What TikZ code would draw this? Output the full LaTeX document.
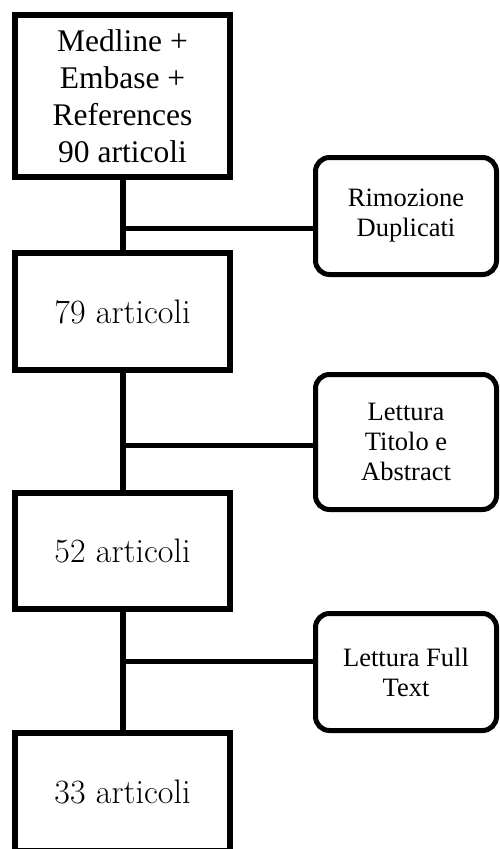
\documentclass[tikz,border=0pt]{standalone}
\usepackage{fontspec}
\newfontfamily\timesfont{Liberation Serif}
\begin{document}
\begin{tikzpicture}[x=1pt,y=-1pt,
	box/.style={draw,line width=6pt,minimum width=215pt,align=center,inner sep=0pt,font=\fontsize{34}{40}\selectfont},
	fase/.style={draw,line width=5pt,rounded corners=14pt,minimum width=181pt,minimum height=117pt,align=center,inner sep=0pt,font=\timesfont\fontsize{26.5}{30}\selectfont},
	link/.style={line width=6pt},
	ramo/.style={line width=5pt}]

	\useasboundingbox (0,0) rectangle (499,849);

	% Articoli
	\node[box,minimum height=162pt,font=\timesfont\fontsize{31.5}{37}\selectfont] (fonti) at (122.5,96) {Medline +\\Embase +\\References\\90 articoli};
	\node[box,minimum height=117pt] (art79) at (122.5,311.5) {79 articoli};
	\node[box,minimum height=116pt] (art52) at (122.5,551) {52 articoli};
	\node[box,minimum height=118pt] (art33) at (122.5,792) {33 articoli};

	% Fasi
	\node[fase] (duplicati) at (406,216) {Rimozione\\Duplicati};
	\node[fase,minimum height=135pt] (abstract) at (406,442) {Lettura\\Titolo e\\Abstract};
	\node[fase] (fulltext) at (406,672) {Lettura Full\\Text};

	% Collegamenti
	\coordinate (j1) at (122.5,228);
	\coordinate (j2) at (122.5,445);
	\coordinate (j3) at (122.5,661);

	\draw[link] (fonti.south) -- (art79.north);
	\draw[link] (art79.south) -- (art52.north);
	\draw[link] (art52.south) -- (art33.north);

	\draw[ramo] (j1) -- (duplicati.west |- j1);
	\draw[ramo] (j2) -- (abstract.west |- j2);
	\draw[ramo] (j3) -- (fulltext.west |- j3);

\end{tikzpicture}
\end{document}
